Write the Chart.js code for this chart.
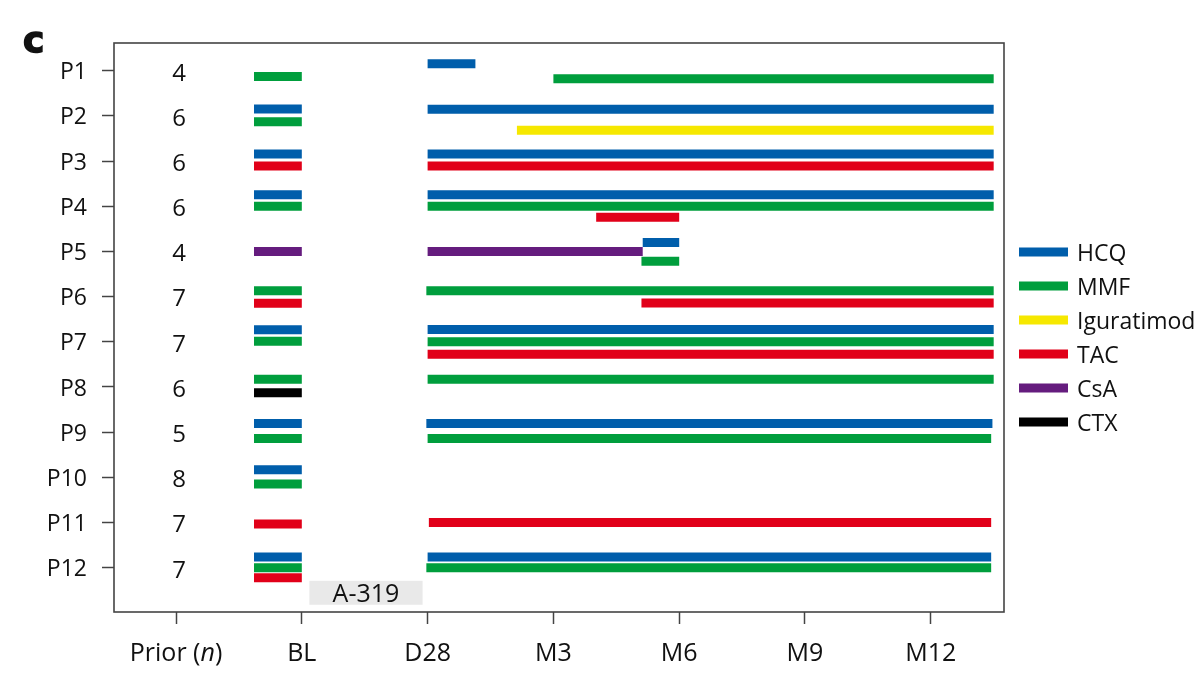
<!DOCTYPE html>
<html>
<head>
<meta charset="utf-8">
<script src="https://cdn.jsdelivr.net/npm/chart.js@4"></script>
<style>
  html, body { margin: 0; padding: 0; background: #fff; }
  #wrap { width: 1202px; height: 700px; }
</style>
</head>
<body>
<div id="wrap"><canvas id="chart"></canvas></div>
<script>
const patients = ['P1', 'P2', 'P3', 'P4', 'P5', 'P6', 'P7', 'P8', 'P9', 'P10', 'P11', 'P12'];
const priorCounts = [4, 6, 6, 6, 4, 7, 7, 6, 5, 8, 7, 7];
const timepoints = ['Prior (n)', 'BL', 'D28', 'M3', 'M6', 'M9', 'M12'];
const drugs = ['HCQ', 'MMF', 'Iguratimod', 'TAC', 'CsA', 'CTX'];
const drugColors = ['#005eab', '#009e3d', '#f6e800', '#e10019', '#651c7e', '#000000'];

// [patient, start, end, lane offset within the row]
const hcqSegments = [
  ['P2', 0.62, 1, -0.155], ['P3', 0.62, 1, -0.155], ['P4', 0.62, 1, -0.255],
  ['P7', 0.62, 1, -0.265], ['P9', 0.62, 1, -0.19], ['P10', 0.62, 1, -0.17],
  ['P12', 0.62, 1, -0.235],
  ['P1', 2, 2.38, -0.155], ['P2', 2, 6.5, -0.148], ['P3', 2, 6.5, -0.155],
  ['P4', 2, 6.5, -0.255], ['P5', 3.71, 4, -0.2], ['P7', 2, 6.5, -0.27],
  ['P9', 1.99, 6.49, -0.19], ['P12', 2, 6.48, -0.235]
];
const mmfSegments = [
  ['P1', 0.62, 1, 0.13], ['P2', 0.62, 1, 0.13], ['P4', 0.62, 1, 0],
  ['P6', 0.62, 1, -0.13], ['P7', 0.62, 1, -0.01], ['P8', 0.62, 1, -0.17],
  ['P9', 0.62, 1, 0.14], ['P10', 0.62, 1, 0.145], ['P12', 0.62, 1, 0],
  ['P1', 3, 6.5, 0.18], ['P4', 2, 6.5, 0], ['P5', 3.7, 4, 0.215],
  ['P6', 1.99, 6.5, -0.13], ['P7', 2, 6.5, 0], ['P8', 2, 6.5, -0.17],
  ['P9', 2, 6.48, 0.14], ['P12', 1.99, 6.48, 0]
];
const iguratimodSegments = [
  ['P2', 2.71, 6.5, 0.32]
];
const tacSegments = [
  ['P3', 0.62, 1, 0.11], ['P6', 0.62, 1, 0.145], ['P11', 0.62, 1, 0.03],
  ['P12', 0.62, 1, 0.22],
  ['P3', 2, 6.5, 0.11], ['P4', 3.34, 4, 0.245], ['P6', 3.7, 6.5, 0.14],
  ['P7', 2, 6.5, 0.275], ['P11', 2.01, 6.48, 0]
];
const csaSegments = [
  ['P5', 0.62, 1, 0], ['P5', 2, 3.71, 0]
];
const ctxSegments = [
  ['P8', 0.62, 1, 0.13]
];
const segmentsByDrug = [hcqSegments, mmfSegments, iguratimodSegments, tacSegments, csaSegments, ctxSegments];

// study drug window label
const studyLabel = 'A-319';
const studySpanX = [1.06, 1.96];
const studySpanY = [12.29, 12.82];

const FONT = '"Open Sans", "Liberation Sans", sans-serif';
const AXIS_COLOR = '#444';

// each segment becomes two points, gaps break the line
function toPoints(segs) {
  const pts = [];
  segs.forEach(([p, start, end, off]) => {
    const row = patients.indexOf(p) + 1 + off;
    pts.push({ x: start, y: row }, { x: end, y: row }, { x: null, y: null });
  });
  return pts;
}

const datasets = drugs.map((name, i) => ({
  label: name,
  data: toPoints(segmentsByDrug[i]),
  borderColor: drugColors[i],
  backgroundColor: drugColors[i],
  borderWidth: 9,
  borderCapStyle: 'butt',
  pointRadius: 0,
  tension: 0,
  spanGaps: false
}));

const decor = {
  id: 'decor',
  beforeDatasetsDraw(chart) {
    const { ctx, scales: { x, y } } = chart;
    const x0 = x.getPixelForValue(studySpanX[0]), x1 = x.getPixelForValue(studySpanX[1]);
    const y0 = y.getPixelForValue(studySpanY[0]), y1 = y.getPixelForValue(studySpanY[1]);
    ctx.save();
    ctx.fillStyle = '#e9e9e9';
    ctx.fillRect(x0, y0, x1 - x0, y1 - y0);
    ctx.fillStyle = '#111';
    ctx.font = '25px ' + FONT;
    ctx.textAlign = 'center';
    ctx.textBaseline = 'middle';
    ctx.fillText(studyLabel, (x0 + x1) / 2, (y0 + y1) / 2 + 2);
    ctx.restore();
  },
  afterDraw(chart) {
    const { ctx, chartArea: a, scales: { x, y } } = chart;
    ctx.save();
    // frame
    ctx.strokeStyle = AXIS_COLOR;
    ctx.lineWidth = 1.6;
    ctx.strokeRect(a.left, a.top, a.right - a.left, a.bottom - a.top);

    // prior therapy counts
    ctx.fillStyle = '#111';
    ctx.font = '24px ' + FONT;
    ctx.textAlign = 'center';
    ctx.textBaseline = 'middle';
    priorCounts.forEach((n, i) => {
      ctx.fillText(String(n), x.getPixelForValue(0) + 3, y.getPixelForValue(i + 1) + 3);
    });

    // "Prior (n)" with italic n
    const px = x.getPixelForValue(0);
    const py = a.bottom + 12 + 15 + 15;
    const parts = [['Prior (', '25px ' + FONT], ['n', 'italic 25px ' + FONT], [')', '25px ' + FONT]];
    let total = 0;
    parts.forEach(([t, f]) => { ctx.font = f; total += ctx.measureText(t).width; });
    let cx = px - total / 2;
    ctx.textAlign = 'left';
    parts.forEach(([t, f]) => {
      ctx.font = f;
      ctx.fillText(t, cx, py);
      cx += ctx.measureText(t).width;
    });

    // legend
    ctx.font = '23px ' + FONT;
    drugs.forEach((d, i) => {
      const ly = 252 + i * 34;
      ctx.fillStyle = drugColors[i];
      ctx.fillRect(a.right + 15, ly - 4.5, 49, 9);
      ctx.fillStyle = '#111';
      ctx.fillText(d, a.right + 73, ly + 2);
    });

    // panel letter
    ctx.font = 'bold 36px "DejaVu Sans", sans-serif';
    ctx.textBaseline = 'alphabetic';
    ctx.lineWidth = 1.5;
    ctx.strokeStyle = '#111';
    ctx.fillText('c', 23, 52);
    ctx.strokeText('c', 23, 52);
    ctx.restore();
  }
};

new Chart(document.getElementById('chart'), {
  type: 'line',
  data: { datasets },
  options: {
    responsive: true,
    maintainAspectRatio: false,
    animation: false,
    layout: { padding: { left: 0, right: 198, top: 43, bottom: 0 } },
    plugins: {
      legend: { display: false },
      tooltip: { enabled: false }
    },
    scales: {
      x: {
        type: 'linear',
        min: -0.493,
        max: 6.582,
        afterBuildTicks: axis => { axis.ticks = timepoints.map((_, i) => ({ value: i })); },
        afterFit: axis => { axis.height = 88; },
        grid: { drawOnChartArea: false, drawTicks: true, tickLength: 12, tickWidth: 1.5, tickColor: AXIS_COLOR },
        border: { display: false },
        ticks: {
          padding: 15,
          color: '#111',
          font: { family: FONT, size: 25 },
          maxRotation: 0,
          callback: v => (v === 0 ? '' : timepoints[v])
        }
      },
      y: {
        type: 'linear',
        reverse: true,
        min: 0.387,
        max: 12.98,
        afterBuildTicks: axis => { axis.ticks = patients.map((_, i) => ({ value: i + 1 })); },
        afterFit: axis => { axis.width = 114; },
        grid: { drawOnChartArea: false, drawTicks: true, tickLength: 12, tickWidth: 1.5, tickColor: AXIS_COLOR },
        border: { display: false },
        ticks: {
          padding: 15,
          labelOffset: 2,
          color: '#111',
          font: { family: FONT, size: 23 },
          callback: v => patients[v - 1]
        }
      }
    }
  },
  plugins: [decor]
});
</script>
</body>
</html>
